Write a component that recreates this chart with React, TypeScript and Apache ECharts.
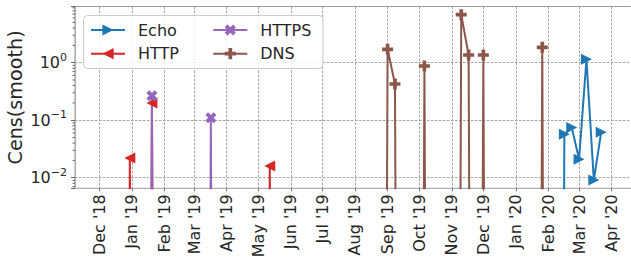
import React, { useEffect, useRef } from 'react';
import * as echarts from 'echarts';

const FONT = 'DejaVu Sans';
const TEXT = '#262626';

const MONTHS = ['Jan', 'Feb', 'Mar', 'Apr', 'May', 'Jun', 'Jul', 'Aug', 'Sep', 'Oct', 'Nov', 'Dec'];

// Weekly samples; 0 = nothing measured that week (drops to the bottom on the log axis)
const echoDates = ['2020-02-09', '2020-02-16', '2020-02-23', '2020-03-01', '2020-03-08', '2020-03-15', '2020-03-22'];
const echoValues = [0, 0.057, 0.075, 0.021, 1.15, 0.0091, 0.062];

const httpDates = ['2018-12-23', '2018-12-30', '2019-01-06', '2019-01-13', '2019-01-20', '2019-01-27', '2019-05-05', '2019-05-12', '2019-05-19'];
const httpValues = [0, 0.022, 0, 0, 0.2, 0, 0, 0.016, 0];

const httpsDates = ['2019-01-13', '2019-01-20', '2019-01-27', '2019-03-10', '2019-03-17', '2019-03-24'];
const httpsValues = [0, 0.267, 0, 0, 0.11, 0];

const dnsDates = ['2019-08-25', '2019-09-01', '2019-09-08', '2019-09-15', '2019-09-29', '2019-10-06', '2019-10-13', '2019-11-03', '2019-11-10', '2019-11-17', '2019-11-24', '2019-12-01', '2019-12-08', '2020-01-19', '2020-01-26', '2020-02-02'];
const dnsValues = [0, 1.71, 0.426, 0, 0, 0.877, 0, 0, 6.84, 1.36, 0, 1.36, 0, 0, 1.85, 0];

// y-axis minor tick positions (log scale)
const minorTickValues = [0.007, 0.008, 0.009, 0.02, 0.03, 0.04, 0.05, 0.06, 0.07, 0.08, 0.09, 0.2, 0.3, 0.4, 0.5, 0.6, 0.7, 0.8, 0.9, 2, 3, 4, 5, 6, 7, 8, 9];

const Y_MIN = 0.00655;
const Y_MAX = 9.49;
const X_MIN = Date.UTC(2018, 10, 7, 21, 0);
const X_MAX = Date.UTC(2020, 3, 20, 7, 0);
const LOG_FLOOR = 1e-30;

const ts = (d: string) => {
  const [y, m, dd] = d.split('-').map(Number);
  return Date.UTC(y, m - 1, dd);
};

const PLUS = 'path://M-1,-3L1,-3L1,-1L3,-1L3,1L1,1L1,3L-1,3L-1,1L-3,1L-3,-1L-1,-1Z';
const XFILL = 'path://M-1,-2L0,-1L1,-2L2,-1L1,0L2,1L1,2L0,1L-1,2L-2,1L-1,0L-2,-1Z';

function makeSeries(name: string, dates: string[], values: number[], color: string, symbol: string, rotate: number, size: number) {
  return {
    name,
    type: 'line',
    silent: true,
    clip: true,
    showSymbol: true,
    showAllSymbol: true,
    symbol,
    symbolRotate: rotate,
    symbolSize: size,
    lineStyle: { color, width: 2 },
    itemStyle: { color, borderWidth: 0 },
    emphasis: { disabled: true },
    data: dates.map((d, i) => {
      const v = values[i];
      return v === 0 ? { value: [ts(d), LOG_FLOOR], symbol: 'none' } : { value: [ts(d), v] };
    }),
  };
}

export default function App() {
  const ref = useRef<HTMLDivElement>(null);
  useEffect(() => {
    if (!ref.current) return;
    const chart = echarts.init(ref.current, undefined, { renderer: 'svg' });

    const legendBase = {
      padding: 0,
      itemWidth: 34,
      itemHeight: 14,
      selectedMode: false,
      z: 10,
      textStyle: { fontSize: 16, color: TEXT, fontFamily: FONT, lineHeight: 14, padding: [0, 0, 0, 8] },
    };

    const option: any = {
      animation: false,
      useUTC: true,
      backgroundColor: '#ffffff',
      textStyle: { fontFamily: FONT },
      grid: {
        left: 75, top: 6.5, width: 557, height: 181.8,
        show: true, borderColor: '#b0b0b0', borderWidth: 1.2,
        containLabel: false, outerBoundsMode: 'none',
      },
      xAxis: {
        type: 'time',
        min: X_MIN,
        max: X_MAX,
        splitNumber: 18,
        axisLine: { show: true, lineStyle: { color: '#b0b0b0', width: 1.2 } },
        axisTick: { show: true, length: 3, lineStyle: { color: '#555', width: 0.8 } },
        axisLabel: {
          rotate: 90,
          margin: 6,
          fontSize: 16,
          color: TEXT,
          fontFamily: FONT,
          hideOverlap: false,
          showMinLabel: false,
          showMaxLabel: false,
          formatter: (v: number) => {
            const d = new Date(v);
            if (d.getUTCDate() !== 1 || d.getUTCHours() !== 0) return '';
            return MONTHS[d.getUTCMonth()] + " '" + String(d.getUTCFullYear()).slice(2);
          },
        },
        splitLine: { show: true, lineStyle: { color: '#8a8a8a', width: 0.8, type: [2.5, 1.5] } },
      },
      yAxis: {
        type: 'log',
        logBase: 10,
        min: Y_MIN,
        max: Y_MAX,
        name: 'Cens(smooth)',
        nameLocation: 'middle',
        nameGap: 50,
        nameMoveOverlap: false,
        nameTextStyle: { fontSize: 19.2, color: TEXT, fontFamily: FONT },
        axisLine: { show: true, lineStyle: { color: '#b0b0b0', width: 1.2 } },
        axisTick: { show: true, length: 4, lineStyle: { color: '#444', width: 0.8 } },
        axisLabel: {
          margin: 8,
          color: TEXT,
          fontFamily: FONT,
          formatter: (v: number) => {
            const l = Math.log10(v);
            const e = Math.round(l);
            if (Math.abs(l - e) > 1e-6) return '';
            return '{b|10}{s|' + (e < 0 ? '\u2212' + -e : String(e)) + '}';
          },
          rich: {
            b: { fontSize: 16, lineHeight: 22, color: TEXT, fontFamily: FONT },
            s: { fontSize: 11, lineHeight: 11, verticalAlign: 'top', color: TEXT, fontFamily: FONT },
          },
        },
        splitLine: { show: true, lineStyle: { color: '#8a8a8a', width: 0.8, type: [2.5, 1.5] } },
      },
      legend: [
        { ...legendBase, data: ['Echo'], left: 90, top: 22 },
        { ...legendBase, data: ['HTTP'], left: 90, top: 45.7 },
        { ...legendBase, data: ['HTTPS'], left: 212.3, top: 22 },
        { ...legendBase, data: ['DNS'], left: 212.3, top: 45.7 },
      ],
      graphic: [
        {
          type: 'rect',
          z: 5,
          silent: true,
          shape: { x: 83.5, y: 15.5, width: 239.5, height: 53, r: 4 },
          style: { fill: 'rgba(255,255,255,0.85)', stroke: '#cccccc', lineWidth: 1 },
        },
      ],
      series: [
        makeSeries('Echo', echoDates, echoValues, '#1f77b4', 'triangle', -90, 11),
        makeSeries('HTTP', httpDates, httpValues, '#d62728', 'triangle', 90, 11),
        makeSeries('HTTPS', httpsDates, httpsValues, '#9467bd', XFILL, 0, 11),
        makeSeries('DNS', dnsDates, dnsValues, '#8c564b', PLUS, 0, 11),
        {
          type: 'custom',
          silent: true,
          clip: false,
          z: 1,
          data: minorTickValues.map((v) => [X_MIN, v]),
          renderItem: (params: any, api: any) => {
            const cs = params.coordSys;
            const pt = api.coord([api.value(0), api.value(1)]);
            return {
              type: 'line',
              shape: { x1: cs.x - 2.5, y1: pt[1], x2: cs.x, y2: pt[1] },
              style: { stroke: '#444', lineWidth: 0.8 },
            };
          },
        },
      ],
    };
    chart.setOption(option);
    return () => chart.dispose();
  }, []);
  return <div ref={ref} style={{ position: 'absolute', left: 0, top: 0, width: 631, height: 259 }} />;
}
